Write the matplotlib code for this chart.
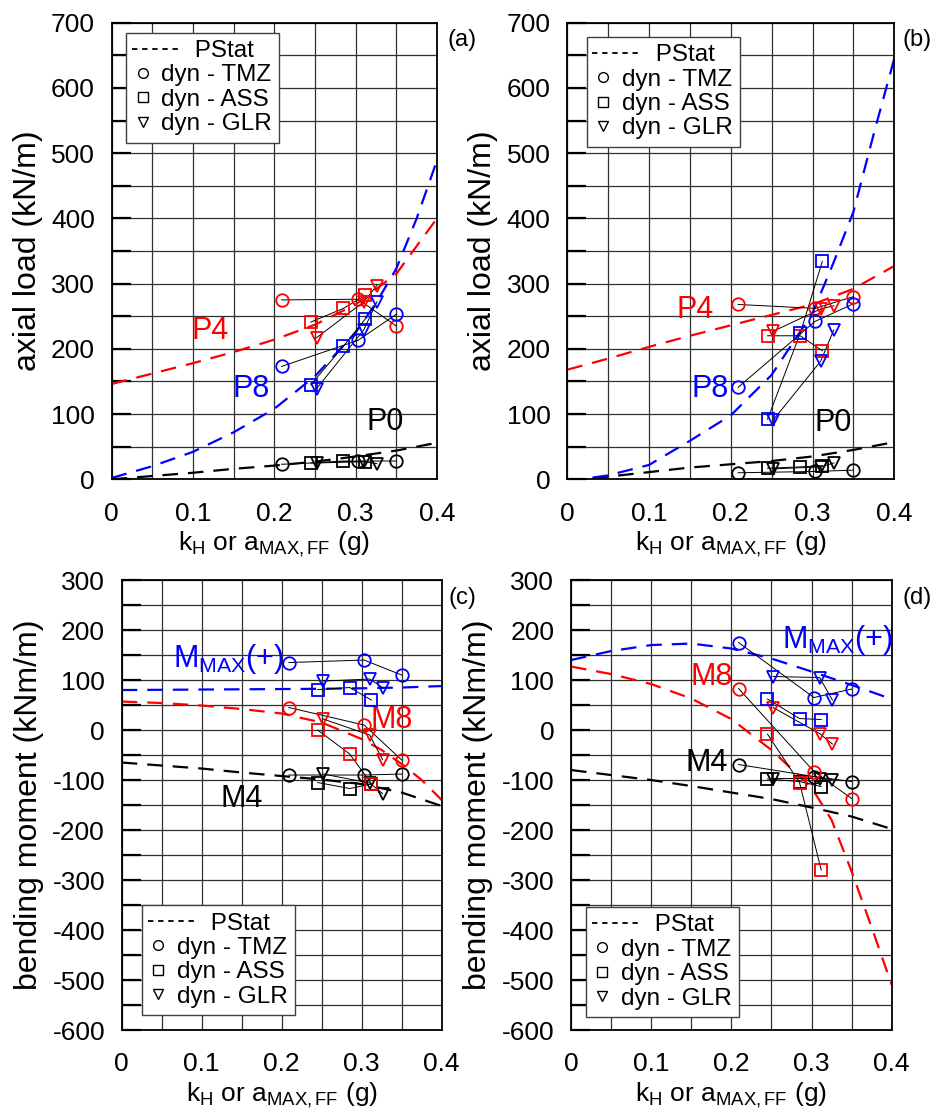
import numpy as np
import matplotlib
matplotlib.use('Agg')
import matplotlib.pyplot as plt
from matplotlib.lines import Line2D
from matplotlib.legend_handler import HandlerLine2D

plt.rcParams['font.family'] = ['Liberation Sans', 'DejaVu Sans']
plt.rcParams['axes.unicode_minus'] = False
plt.rcParams['mathtext.fontset'] = 'custom'
plt.rcParams['mathtext.rm'] = 'Liberation Sans'
plt.rcParams['mathtext.it'] = 'Liberation Sans:italic'

# kH of the dynamic analyses, per ground motion
kh_tmz = [0.209, 0.303, 0.35]
kh_ass = [0.245, 0.285, 0.312]
kh_glr = [0.252, 0.31, 0.326]

# pseudo-static curves
ps_x = [0, 0.05, 0.1, 0.15, 0.2, 0.25, 0.3, 0.35, 0.4]
ps_x_fine = [0, 0.05, 0.1, 0.15, 0.2, 0.25, 0.3, 0.325, 0.35, 0.375, 0.4]

# (a) axial load
a_p0_stat = [0, 5, 10, 16, 21, 27, 35, 44, 56]
a_p4_stat = [146, 162, 178, 195, 214, 237, 268, 315, 400]
a_p8_stat = [2, 20, 42, 72, 108, 158, 225, 270, 323, 400, 489]
a_p0_tmz, a_p0_ass, a_p0_glr = [23, 28, 28], [25, 28, 27], [25, 27, 24]
a_p4_tmz, a_p4_ass, a_p4_glr = [275, 276, 235], [241, 262, 282], [217, 272, 297]
a_p8_tmz, a_p8_ass, a_p8_glr = [173, 213, 253], [145, 204, 246], [139, 229, 272]

# (b) axial load
b_p0_stat = [-2, 4, 11, 18, 23, 28, 35, 45, 57]
b_p4_stat = [168, 185, 203, 220, 236, 252, 268, 292, 327]
b_p8_stat = [-3, 6, 22, 59, 98, 160, 255, 330, 410, 530, 645]
b_p0_tmz, b_p0_ass, b_p0_glr = [10, 12, 14], [17, 19, 21], [16, 19, 25]
b_p4_tmz, b_p4_ass, b_p4_glr = [268, 262, 280], [220, 220, 197], [227, 261, 266]
b_p8_tmz, b_p8_ass, b_p8_glr = [141, 242, 269], [92, 224, 334], [91, 181, 229]

# (c) bending moment
c_m4_stat = [-65, -71, -77, -85, -92, -99, -108, -125, -152]
c_m8_stat = [57, 54, 49, 42, 33, 15, -18, -40, -68, -100, -140]
c_mx_stat = [80, 80.5, 81, 81.5, 82, 82.5, 83.5, 85, 88]
c_m4_tmz, c_m4_ass, c_m4_glr = [-90, -90, -88], [-105, -117, -108], [-88, -106, -127]
c_m8_tmz, c_m8_ass, c_m8_glr = [45, 10, -60], [0, -48, -107], [22, -10, -59]
c_mx_tmz, c_mx_ass, c_mx_glr = [135, 140, 110], [81, 85, 60], [98, 102, 85]

# (d) bending moment
d_m4_stat = [-80, -90, -100, -112, -125, -138, -155, -173, -198]
d_m8_stat = [127, 112, 92, 63, 22, -40, -115, -180, -283, -395, -510]
d_mx_stat = [140, 158, 170, 173, 163, 143, 117, 90, 62]
d_m4_tmz, d_m4_ass, d_m4_glr = [-69, -93, -103], [-98, -103, -113], [-97, -97, -99]
d_m8_tmz, d_m8_ass, d_m8_glr = [83, -83, -137], [-8, -105, -280], [45, -7, -28]
d_mx_tmz, d_mx_ass, d_mx_glr = [175, 65, 82], [62, 23, 21], [107, 105, 60]

DASH = (0, (7, 4.5))
XLAB = r'k$_{\rm H}$ or a$_{\rm MAX,FF}$ (g)'


class DashHandler(HandlerLine2D):
    def create_artists(self, legend, orig_handle, xdescent, ydescent,
                       width, height, fontsize, trans):
        y = height / 2 - ydescent
        ln = Line2D([-xdescent - 1, -xdescent + width * 2.6], [y, y],
                    color='k', lw=1.3, ls=(0, (3, 2.6)))
        ln.set_transform(trans)
        return [ln]


def setup(ax, ylim, ymaj, ylabel):
    ax.set_xlim(0, 0.4)
    ax.set_ylim(*ylim)
    ax.set_xticks(np.arange(0, 0.41, 0.1))
    ax.set_xticklabels(['0', '0.1', '0.2', '0.3', '0.4'])
    ax.set_xticks(np.arange(0, 0.401, 0.05), minor=True)
    ax.set_yticks(ymaj)
    ax.set_yticks(np.arange(ylim[0], ylim[1] + 1, 50), minor=True)
    ax.grid(True, which='both', color='#303030', lw=0.9)
    ax.set_axisbelow(True)
    ax.tick_params(axis='x', which='both', length=0, pad=16, labelsize=19)
    ax.tick_params(axis='y', which='both', direction='in', length=14,
                   width=1.6, pad=12, labelsize=19)
    for s in ax.spines.values():
        s.set_linewidth(1.3)
    ax.set_xlabel(XLAB, fontsize=19, labelpad=3)
    ax.set_ylabel(ylabel, fontsize=23, labelpad=6)


def dyn(ax, color, tmz, ass, glr):
    for xs, ys, mk, ms in ((kh_tmz, tmz, 'o', 9), (kh_ass, ass, 's', 8),
                           (kh_glr, glr, 'v', 9)):
        ax.plot(xs, ys, color='k', lw=0.7, zorder=3)
        ax.plot(xs, ys, ls='none', marker=mk, ms=ms, mfc='none', mec=color,
                mew=1.3, zorder=4)


def legend(ax, **kw):
    hs = [Line2D([], [], color='k', ls='--'),
          Line2D([], [], ls='none', marker='o', ms=7, mfc='none', mec='k', mew=1),
          Line2D([], [], ls='none', marker='s', ms=7, mfc='none', mec='k', mew=1),
          Line2D([], [], ls='none', marker='v', ms=7, mfc='none', mec='k', mew=1)]
    labs = ['     PStat', 'dyn - TMZ', 'dyn - ASS', 'dyn - GLR']
    lg = ax.legend(hs, labs, fontsize=17.5, handlelength=0.75, handletextpad=0.4,
                   borderpad=0.3, labelspacing=0.1, borderaxespad=0,
                   fancybox=False, framealpha=1, edgecolor='#404040',
                   handler_map={hs[0]: DashHandler()}, **kw)
    lg.get_frame().set_linewidth(1.0)
    lg.set_zorder(10)


fig = plt.figure(figsize=(9.37, 11.11), dpi=100)
ax_a = fig.add_axes([0.119, 0.5686, 0.3474, 0.411])
ax_b = fig.add_axes([0.6054, 0.5686, 0.349, 0.411])
ax_c = fig.add_axes([0.1299, 0.0729, 0.3415, 0.405])
ax_d = fig.add_axes([0.6094, 0.0729, 0.3423, 0.405])

# (a)
setup(ax_a, (0, 700), np.arange(0, 701, 100), 'axial load (kN/m)')
ax_a.plot(ps_x, a_p0_stat, color='k', lw=1.6, ls=DASH, zorder=2)
ax_a.plot(ps_x, a_p4_stat, color='red', lw=1.6, ls=DASH, zorder=2)
ax_a.plot(ps_x_fine, a_p8_stat, color='blue', lw=1.6, ls=DASH, zorder=2)
dyn(ax_a, 'k', a_p0_tmz, a_p0_ass, a_p0_glr)
dyn(ax_a, 'red', a_p4_tmz, a_p4_ass, a_p4_glr)
dyn(ax_a, 'blue', a_p8_tmz, a_p8_ass, a_p8_glr)
ax_a.text(0.121, 228, 'P4', color='red', fontsize=22, ha='center', va='center')
ax_a.text(0.172, 138, 'P8', color='blue', fontsize=22, ha='center', va='center')
ax_a.text(0.336, 88, 'P0', color='k', fontsize=22, ha='center', va='center')
legend(ax_a, loc='upper left', bbox_to_anchor=(0.045, 0.978))

# (b)
setup(ax_b, (0, 700), np.arange(0, 701, 100), 'axial load (kN/m)')
ax_b.plot(ps_x, b_p0_stat, color='k', lw=1.6, ls=DASH, zorder=2)
ax_b.plot(ps_x, b_p4_stat, color='red', lw=1.6, ls=DASH, zorder=2)
ax_b.plot(ps_x_fine, b_p8_stat, color='blue', lw=1.6, ls=DASH, zorder=2)
dyn(ax_b, 'k', b_p0_tmz, b_p0_ass, b_p0_glr)
dyn(ax_b, 'red', b_p4_tmz, b_p4_ass, b_p4_glr)
dyn(ax_b, 'blue', b_p8_tmz, b_p8_ass, b_p8_glr)
ax_b.text(0.156, 260, 'P4', color='red', fontsize=22, ha='center', va='center')
ax_b.text(0.175, 139, 'P8', color='blue', fontsize=22, ha='center', va='center')
ax_b.text(0.325, 86, 'P0', color='k', fontsize=22, ha='center', va='center')
legend(ax_b, loc='upper left', bbox_to_anchor=(0.059, 0.969))

# (c)
setup(ax_c, (-600, 300), np.arange(-600, 301, 100), 'bending moment (kNm/m)')
ax_c.plot(ps_x, c_m4_stat, color='k', lw=1.6, ls=DASH, zorder=2)
ax_c.plot(ps_x_fine, c_m8_stat, color='red', lw=1.6, ls=DASH, zorder=2)
ax_c.plot(ps_x, c_mx_stat, color='blue', lw=1.6, ls=DASH, zorder=2)
dyn(ax_c, 'k', c_m4_tmz, c_m4_ass, c_m4_glr)
dyn(ax_c, 'red', c_m8_tmz, c_m8_ass, c_m8_glr)
dyn(ax_c, 'blue', c_mx_tmz, c_mx_ass, c_mx_glr)
ax_c.text(0.133, 143, r'M$_{\rm MAX}$(+)', color='blue', fontsize=22, ha='center', va='center')
ax_c.text(0.3375, 20, 'M8', color='red', fontsize=22, ha='center', va='center')
ax_c.text(0.15, -137, 'M4', color='k', fontsize=22, ha='center', va='center')
legend(ax_c, loc='lower left', bbox_to_anchor=(0.0625, 0.033))

# (d)
setup(ax_d, (-600, 300), np.arange(-600, 301, 100), 'bending moment (kNm/m)')
ax_d.plot(ps_x, d_m4_stat, color='k', lw=1.6, ls=DASH, zorder=2)
ax_d.plot(ps_x_fine, d_m8_stat, color='red', lw=1.6, ls=DASH, zorder=2)
ax_d.plot(ps_x, d_mx_stat, color='blue', lw=1.6, ls=DASH, zorder=2)
dyn(ax_d, 'k', d_m4_tmz, d_m4_ass, d_m4_glr)
dyn(ax_d, 'red', d_m8_tmz, d_m8_ass, d_m8_glr)
dyn(ax_d, 'blue', d_mx_tmz, d_mx_ass, d_mx_glr)
ax_d.text(0.333, 181, r'M$_{\rm MAX}$(+)', color='blue', fontsize=22, ha='center', va='center')
ax_d.text(0.1754, 107, 'M8', color='red', fontsize=22, ha='center', va='center')
ax_d.text(0.169, -65, 'M4', color='k', fontsize=22, ha='center', va='center')
legend(ax_d, loc='lower left', bbox_to_anchor=(0.047, 0.029))

for lab, px, py in (('(a)', 462, 40), ('(b)', 917, 40), ('(c)', 462, 598), ('(d)', 917, 598)):
    fig.text(px / 937, 1 - py / 1111, lab, fontsize=17, ha='center', va='center')

fig.savefig('out.png', dpi=100)
